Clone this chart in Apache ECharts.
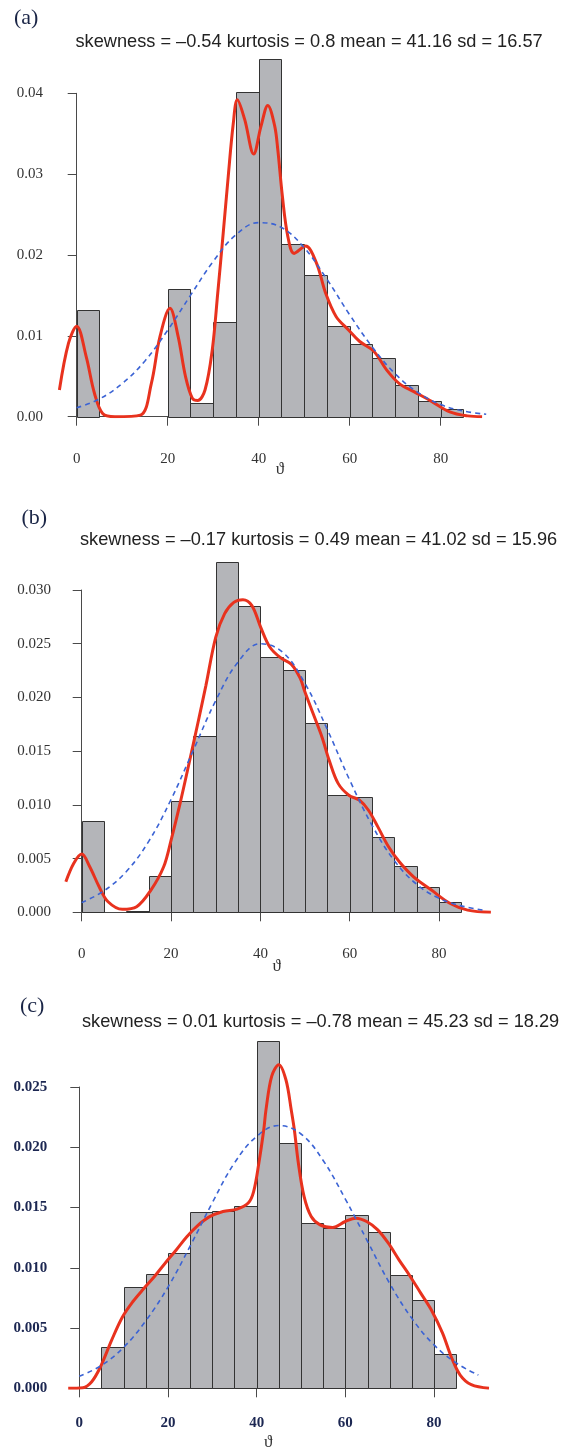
<!DOCTYPE html>
<html>
<head>
<meta charset="utf-8">
<script src="https://cdn.jsdelivr.net/npm/echarts@6/dist/echarts.min.js"></script>
<style>
html,body{margin:0;padding:0;background:#fff;}
#chart{width:564px;height:1450px;}
</style>
</head>
<body>
<div id="chart"></div>
<script>
// ---------- data ----------
const binStarts = [0,5,10,15,20,25,30,35,40,45,50,55,60,65,70,75,80];
const binWidth = 5;

const histA = [0.01322,0,0,0,0.01579,0.00166,0.01177,0.04015,0.04429,0.02136,0.01752,0.01128,0.00897,0.00724,0.00393,0.00195,0.00092];
const histB = [0.00851,0,0.00015,0.0034,0.01037,0.0164,0.03257,0.02852,0.02374,0.02257,0.01758,0.0109,0.01074,0.00697,0.00433,0.00232,0.00093];
const histC = [0,0.00341,0.00839,0.00949,0.01121,0.01459,0.01473,0.01512,0.02885,0.02035,0.01375,0.01329,0.01439,0.01296,0.00939,0.00736,0.00285];

const kdeA = [[-3.8,0.0033],[-1.8,0.0091],[0,0.0112],[2.1,0.0074],[3.9,0.0029],[5.7,0.0004],[8.4,0.0],[14.0,0.0002],[16.4,0.0041],[18.3,0.0099],[20.5,0.0134],[22.3,0.0099],[23.9,0.0050],[25.4,0.0023],[26.6,0.0020],[28.2,0.0033],[29.8,0.0083],[31.0,0.0153],[32.2,0.0227],[33.3,0.0297],[34.4,0.0362],[35.3,0.0392],[36.9,0.0368],[38.9,0.0325],[40.5,0.0359],[42.0,0.0385],[43.5,0.0360],[44.2,0.0330],[45.2,0.0273],[46.4,0.0223],[47.8,0.0202],[50.3,0.0211],[52.7,0.0190],[54.7,0.0153],[57.0,0.0124],[59.8,0.0107],[62.2,0.0093],[65.3,0.0081],[68.1,0.0058],[70.9,0.0041],[74.1,0.0031],[78.0,0.0019],[82.0,0.0006],[85.9,0.0001],[89.1,0.0]];
const kdeB = [[-3.55,0.00284],[-1.8,0.00455],[0,0.00542],[1.8,0.00424],[3.9,0.00238],[5.9,0.00098],[9.1,0.00028],[12.3,0.00052],[15.5,0.00207],[18.35,0.00424],[20.0,0.0067],[22.0,0.0101],[24.0,0.0138],[26.0,0.0176],[27.8,0.0211],[30.0,0.0256],[32.0,0.0278],[34.05,0.02885],[36.1,0.0291],[38.1,0.02855],[40.1,0.0265],[42.1,0.0247],[44.5,0.0237],[46.9,0.0231],[48.9,0.0218],[49.9,0.0206],[51.8,0.0185],[53.8,0.0163],[55.4,0.01415],[57.4,0.0120],[59.8,0.0109],[62.2,0.01043],[64.2,0.0095],[66.3,0.00795],[68.7,0.0061],[71.1,0.0047],[74.3,0.0033],[78.3,0.00207],[82.4,0.00084],[86.4,0.0002],[91.6,0]];
const kdeC = [[-2.5,0],[0.8,0.00005],[2.8,0.00055],[4.8,0.0018],[7.3,0.0040],[9.7,0.0059],[12.1,0.0072],[14.6,0.0083],[17.0,0.0093],[19.4,0.0104],[21.9,0.0115],[24.3,0.0126],[26.7,0.0135],[29.2,0.0142],[32.4,0.01467],[35.6,0.01487],[38.1,0.01537],[39.3,0.0163],[40.5,0.0187],[41.6,0.02145],[42.1,0.0231],[43.4,0.0259],[45.0,0.02685],[46.6,0.0256],[47.8,0.0231],[48.5,0.02145],[49.4,0.0187],[50.7,0.0159],[52.3,0.01425],[54.3,0.01356],[57.1,0.01334],[60.0,0.01384],[62.4,0.01412],[64.8,0.01384],[67.3,0.01315],[69.7,0.01204],[72.1,0.01066],[74.6,0.0093],[77.0,0.0079],[79.4,0.0065],[81.9,0.0046],[83.9,0.0026],[85.9,0.0011],[88.4,0.0003],[92.4,0]];

const normX = [0,5,10,15,20,25,30,35,40,45,50,55,60,65,70,75,80,85,90];
const normA = [0.0011,0.0022,0.0041,0.0069,0.0107,0.0150,0.0192,0.0225,0.0240,0.0234,0.0209,0.0170,0.0126,0.0086,0.0053,0.0030,0.0015,0.0007,0.0003];
const normB = [0.0009,0.0020,0.0038,0.0066,0.0105,0.0151,0.0197,0.0233,0.0250,0.0242,0.0213,0.0170,0.0123,0.0081,0.0048,0.0026,0.0013,0.0006,0.0002];
const normC = [0.0010,0.0019,0.0034,0.0056,0.0084,0.0118,0.0154,0.0187,0.0209,0.0218,0.0211,0.0189,0.0157,0.0122,0.0087,0.0058,0.0036,0.0021,0.0011];

const titles = [
  'skewness = \u20130.54 kurtosis = 0.8 mean = 41.16 sd = 16.57',
  'skewness = \u20130.17 kurtosis = 0.49 mean = 41.02 sd = 15.96',
  'skewness = 0.01 kurtosis = \u20130.78 mean = 45.23 sd = 18.29'
];
const panelLetters = ['(a)','(b)','(c)'];
const xTicks = {min:0, max:80, interval:20};
const yMax = [0.04, 0.03, 0.025];
const yInterval = [0.01, 0.005, 0.005];
const yDecimals = [2, 3, 3];
const xName = '\u03d1';

// ---------- layout (pixel geometry of each panel) ----------
// x0: pixel of x=0, sx: px per x unit, y0: pixel of y=0, sy: px per y unit
const panels = [
  {x0:76.7, sx:4.55, y0:416.7, sy:8085, yTop:0.05, yOff:16.7, xOff:14.3, xMargin:21, yMargin:17, lab:{color:'#333', weight:'normal', size:15},
   title:{x:75.5, y:41.7}, letter:{x:14, y:18.5}, name:{x:280, y:470}},
  {x0:81.7, sx:4.467, y0:912.3, sy:10743, yTop:0.035, yOff:15.7, xOff:13.7, xMargin:21, yMargin:15, lab:{color:'#333', weight:'normal', size:15},
   title:{x:80, y:540}, letter:{x:21.5, y:518}, name:{x:276.7, y:967}},
  {x0:79.3, sx:4.434, y0:1388.3, sy:12052, yTop:0.03, yOff:16, xOff:14.4, xMargin:13, yMargin:16, lab:{color:'#1c2752', weight:'bold', size:15},
   title:{x:82, y:1021.7}, letter:{x:20, y:1006}, name:{x:268.3, y:1443}}
];
const dataXMin = -5, dataXMax = 95;
const hists = [histA, histB, histC];
const kdes = [kdeA, kdeB, kdeC];
const norms = [normA, normB, normC];

const grid = [], xAxis = [], yAxis = [], series = [], graphic = [];
const serif = "'Liberation Serif','DejaVu Serif',serif";
const axisColor = '#4a4a4a';

panels.forEach((p, i) => {
  const gData = 2*i, gAxis = 2*i + 1;
  // data grid (hidden axes, wider extent)
  grid.push({left:p.x0 + dataXMin*p.sx, width:(dataXMax - dataXMin)*p.sx, top:p.y0 - p.yTop*p.sy, height:p.yTop*p.sy});
  xAxis.push({type:'value', gridIndex:gData, min:dataXMin, max:dataXMax, show:false, splitLine:{show:false}});
  yAxis.push({type:'value', gridIndex:gData, min:0, max:p.yTop, show:false, splitLine:{show:false}});
  // axis grid (visible, R-style detached axes)
  grid.push({left:p.x0, width:80*p.sx, top:p.y0 - yMax[i]*p.sy, height:yMax[i]*p.sy});
  xAxis.push({
    type:'value', gridIndex:gAxis, min:xTicks.min, max:xTicks.max, interval:xTicks.interval,
    offset:p.xOff, splitLine:{show:false},
    axisLine:{show:true, lineStyle:{color:axisColor, width:1}},
    axisTick:{show:true, length:9, lineStyle:{color:axisColor, width:1}},
    axisLabel:{margin:p.xMargin, fontFamily:serif, fontSize:p.lab.size, color:p.lab.color, fontWeight:p.lab.weight}
  });
  yAxis.push({
    type:'value', gridIndex:gAxis, min:0, max:yMax[i], interval:yInterval[i],
    offset:p.yOff, splitLine:{show:false},
    axisLine:{show:true, lineStyle:{color:axisColor, width:1}},
    axisTick:{show:true, length:9, lineStyle:{color:axisColor, width:1}},
    axisLabel:{margin:p.yMargin, fontFamily:serif, fontSize:p.lab.size, color:p.lab.color, fontWeight:p.lab.weight,
      formatter:(v)=>v.toFixed(yDecimals[i])}
  });
  const barData = [];
  binStarts.forEach((s, k) => { if (hists[i][k] > 0) barData.push([s, s + binWidth, hists[i][k]]); });
  series.push({
    type:'custom', xAxisIndex:gData, yAxisIndex:gData, data:barData,
    encode:{x:[0,1], y:2},
    renderItem:function(params, api){
      const a = api.coord([api.value(0), api.value(2)]);
      const b = api.coord([api.value(1), 0]);
      const xa = Math.round(a[0]), ya = Math.round(a[1]), xb = Math.round(b[0]), yb = Math.round(b[1]);
      return {type:'rect', shape:{x:xa+0.5, y:ya+0.5, width:xb-xa, height:yb-ya},
        style:{fill:'#b4b5b9', stroke:'#333333', lineWidth:1}};
    },
    z:1
  });
  series.push({
    type:'line', xAxisIndex:gData, yAxisIndex:gData, data:kdes[i], smooth:0.35, symbol:'none',
    lineStyle:{color:'#e8321e', width:3}, z:2
  });
  series.push({
    type:'line', xAxisIndex:gData, yAxisIndex:gData, data:normX.map((x,k)=>[x, norms[i][k]]), smooth:0.4, symbol:'none',
    lineStyle:{color:'#3b63d4', width:1.6, type:[5,4]}, z:3
  });
  graphic.push({type:'text', x:p.title.x, y:p.title.y, style:{text:titles[i], font:"18.2px 'Liberation Sans', Arial, sans-serif", fill:'#222', textAlign:'left', textVerticalAlign:'middle'}});
  graphic.push({type:'text', x:p.letter.x, y:p.letter.y, style:{text:panelLetters[i], font:"22px "+serif, fill:'#1b2647', textAlign:'left', textVerticalAlign:'middle'}});
  graphic.push({type:'text', x:p.name.x, y:p.name.y, style:{text:xName, font:"17px "+serif, fill:'#333', textAlign:'center', textVerticalAlign:'middle'}});
});

const chart = echarts.init(document.getElementById('chart'), null, {renderer:'canvas'});
chart.setOption({animation:false, backgroundColor:'#fff', grid, xAxis, yAxis, series, graphic});
</script>
</body>
</html>
